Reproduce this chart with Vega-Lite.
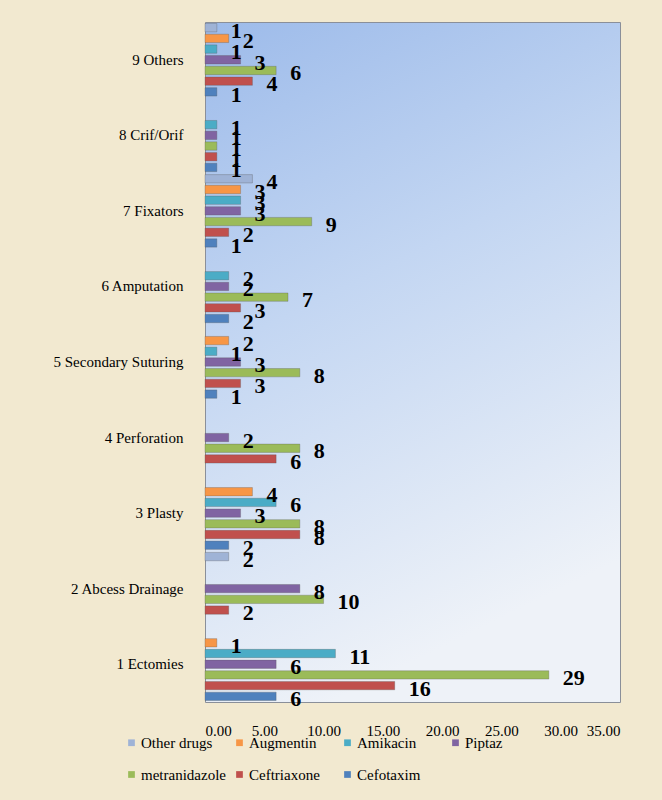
{
  "$schema": "https://vega.github.io/schema/vega-lite/v6.json",
  "width": 415,
  "height": 680,
  "autosize": {"type": "none"},
  "padding": {"left": 205, "top": 22, "right": 42, "bottom": 98},
  "background": "#F2E9D0",
  "config": {
    "view": {
      "stroke": "#8A8F99",
      "strokeWidth": 1,
      "fill": {
        "gradient": "linear", "x1": 0, "y1": 0, "x2": 0.3, "y2": 1,
        "stops": [
          {"offset": 0, "color": "#9DBBEA"},
          {"offset": 0.45, "color": "#C3D6F2"},
          {"offset": 1, "color": "#EEF2F8"}
        ]
      }
    },
    "font": "Liberation Serif",
    "legend": {"labelFont": "Liberation Serif", "labelFontSize": 15, "labelColor": "#000000"},
    "axis": {"labelFont": "Liberation Serif"}
  },
  "data": {
    "values": [
      {"category": "9 Others", "drug": "Other drugs", "value": 1},
      {"category": "9 Others", "drug": "Augmentin", "value": 2},
      {"category": "9 Others", "drug": "Amikacin", "value": 1},
      {"category": "9 Others", "drug": "Piptaz", "value": 3},
      {"category": "9 Others", "drug": "metranidazole", "value": 6},
      {"category": "9 Others", "drug": "Ceftriaxone", "value": 4},
      {"category": "9 Others", "drug": "Cefotaxim", "value": 1},
      {"category": "8 Crif/Orif", "drug": "Amikacin", "value": 1},
      {"category": "8 Crif/Orif", "drug": "Piptaz", "value": 1},
      {"category": "8 Crif/Orif", "drug": "metranidazole", "value": 1},
      {"category": "8 Crif/Orif", "drug": "Ceftriaxone", "value": 1},
      {"category": "8 Crif/Orif", "drug": "Cefotaxim", "value": 1},
      {"category": "7 Fixators", "drug": "Other drugs", "value": 4},
      {"category": "7 Fixators", "drug": "Augmentin", "value": 3},
      {"category": "7 Fixators", "drug": "Amikacin", "value": 3},
      {"category": "7 Fixators", "drug": "Piptaz", "value": 3},
      {"category": "7 Fixators", "drug": "metranidazole", "value": 9},
      {"category": "7 Fixators", "drug": "Ceftriaxone", "value": 2},
      {"category": "7 Fixators", "drug": "Cefotaxim", "value": 1},
      {"category": "6 Amputation", "drug": "Amikacin", "value": 2},
      {"category": "6 Amputation", "drug": "Piptaz", "value": 2},
      {"category": "6 Amputation", "drug": "metranidazole", "value": 7},
      {"category": "6 Amputation", "drug": "Ceftriaxone", "value": 3},
      {"category": "6 Amputation", "drug": "Cefotaxim", "value": 2},
      {"category": "5 Secondary Suturing", "drug": "Augmentin", "value": 2},
      {"category": "5 Secondary Suturing", "drug": "Amikacin", "value": 1},
      {"category": "5 Secondary Suturing", "drug": "Piptaz", "value": 3},
      {"category": "5 Secondary Suturing", "drug": "metranidazole", "value": 8},
      {"category": "5 Secondary Suturing", "drug": "Ceftriaxone", "value": 3},
      {"category": "5 Secondary Suturing", "drug": "Cefotaxim", "value": 1},
      {"category": "4 Perforation", "drug": "Piptaz", "value": 2},
      {"category": "4 Perforation", "drug": "metranidazole", "value": 8},
      {"category": "4 Perforation", "drug": "Ceftriaxone", "value": 6},
      {"category": "3 Plasty", "drug": "Augmentin", "value": 4},
      {"category": "3 Plasty", "drug": "Amikacin", "value": 6},
      {"category": "3 Plasty", "drug": "Piptaz", "value": 3},
      {"category": "3 Plasty", "drug": "metranidazole", "value": 8},
      {"category": "3 Plasty", "drug": "Ceftriaxone", "value": 8},
      {"category": "3 Plasty", "drug": "Cefotaxim", "value": 2},
      {"category": "2 Abcess Drainage", "drug": "Other drugs", "value": 2},
      {"category": "2 Abcess Drainage", "drug": "Piptaz", "value": 8},
      {"category": "2 Abcess Drainage", "drug": "metranidazole", "value": 10},
      {"category": "2 Abcess Drainage", "drug": "Ceftriaxone", "value": 2},
      {"category": "1 Ectomies", "drug": "Augmentin", "value": 1},
      {"category": "1 Ectomies", "drug": "Amikacin", "value": 11},
      {"category": "1 Ectomies", "drug": "Piptaz", "value": 6},
      {"category": "1 Ectomies", "drug": "metranidazole", "value": 29},
      {"category": "1 Ectomies", "drug": "Ceftriaxone", "value": 16},
      {"category": "1 Ectomies", "drug": "Cefotaxim", "value": 6}
    ]
  },
  "encoding": {
    "y": {
      "field": "category", "type": "nominal",
      "sort": ["9 Others", "8 Crif/Orif", "7 Fixators", "6 Amputation", "5 Secondary Suturing", "4 Perforation", "3 Plasty", "2 Abcess Drainage", "1 Ectomies"],
      "scale": {"paddingInner": 0.04, "paddingOuter": 0.02},
      "axis": {"title": null, "ticks": false, "domain": false, "labelPadding": 22, "labelFontSize": 15, "labelColor": "#000000", "labelFont": "Liberation Serif"}
    },
    "yOffset": {
      "field": "drug", "type": "nominal",
      "sort": ["Other drugs", "Augmentin", "Amikacin", "Piptaz", "metranidazole", "Ceftriaxone", "Cefotaxim"],
      "scale": {"paddingInner": 0.22, "paddingOuter": 0}
    },
    "x": {
      "field": "value", "type": "quantitative",
      "scale": {"domain": [0, 35], "nice": false},
      "axis": {"title": null, "values": [0, 5, 10, 15, 20, 25, 30, 35], "format": ".2f", "grid": false, "ticks": false, "domain": false, "labelPadding": 21, "labelFontSize": 15, "labelColor": "#000000", "labelFont": "Liberation Serif"}
    }
  },
  "layer": [
    {
      "mark": {"type": "bar", "stroke": "#555555", "strokeWidth": 0.5, "strokeOpacity": 0.6},
      "encoding": {
        "color": {
          "field": "drug", "type": "nominal",
          "scale": {
            "domain": ["Other drugs", "Augmentin", "Amikacin", "Piptaz", "metranidazole", "Ceftriaxone", "Cefotaxim"],
            "range": ["#9FB3D6", "#F79646", "#4BACC6", "#8064A2", "#9BBB59", "#C0504D", "#4F81BD"]
          },
          "legend": {
            "title": null, "orient": "none", "legendX": -81, "legendY": 713,
            "direction": "horizontal", "columns": 4, "gridAlign": "all",
            "columnPadding": 6, "rowPadding": 16, "labelOffset": 2,
            "symbolType": "square", "symbolSize": 45, "symbolStrokeWidth": 0,
            "labelFontSize": 15, "labelColor": "#000000", "labelFont": "Liberation Serif", "labelLimit": 200,
            "encode": {"labels": {"update": {"font": {"value": "Liberation Serif"}, "fontSize": {"value": 15}}}}
          }
        }
      }
    },
    {
      "mark": {"type": "text", "align": "left", "baseline": "middle", "dx": 14, "dy": 3, "fontSize": 22, "fontWeight": "bold", "font": "Liberation Serif", "color": "#000000"},
      "encoding": {
        "text": {"field": "value", "type": "quantitative"}
      }
    }
  ]
}
